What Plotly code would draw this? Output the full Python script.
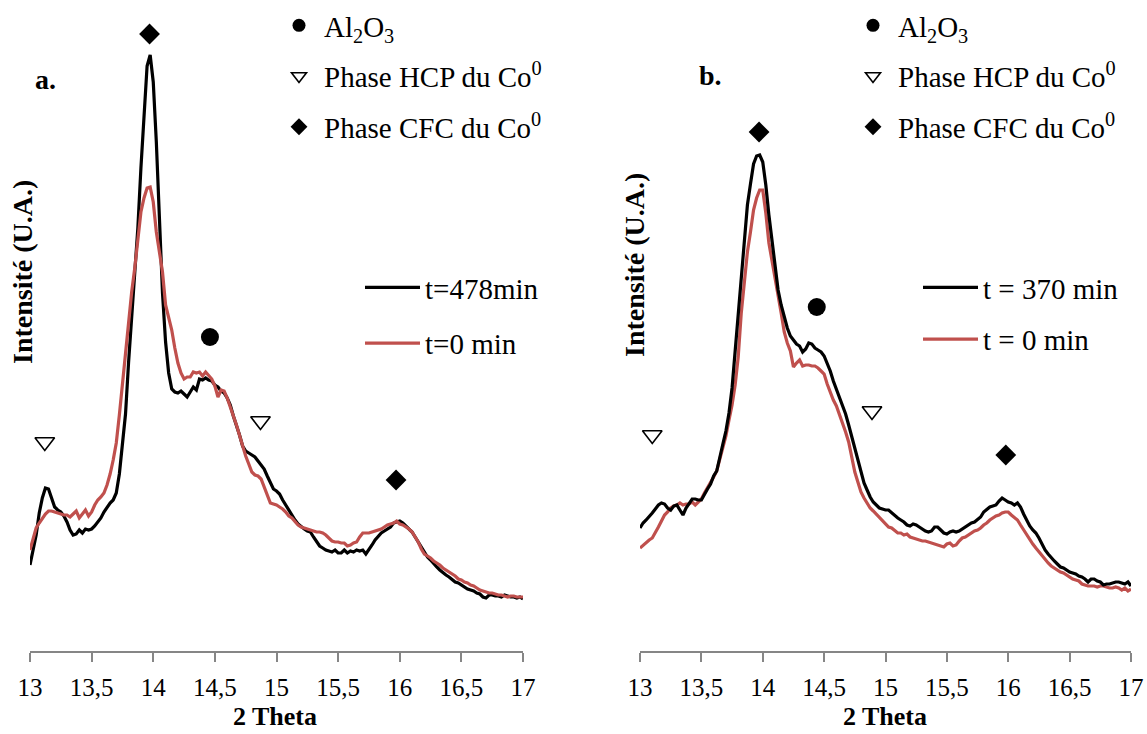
import plotly.graph_objects as go

# 2-theta scan grid (degrees), shared by both diffractograms
two_theta = [
    13.000, 13.025, 13.050, 13.075, 13.100, 13.125, 13.150, 13.175, 13.200, 13.225,
    13.250, 13.275, 13.300, 13.325, 13.350, 13.375, 13.400, 13.425, 13.450, 13.475,
    13.500, 13.525, 13.550, 13.575, 13.600, 13.625, 13.650, 13.675, 13.700, 13.725,
    13.750, 13.775, 13.800, 13.825, 13.850, 13.875, 13.900, 13.925, 13.950, 13.975,
    14.000, 14.025, 14.050, 14.075, 14.100, 14.125, 14.150, 14.175, 14.200, 14.225,
    14.250, 14.275, 14.300, 14.325, 14.350, 14.375, 14.400, 14.425, 14.450, 14.475,
    14.500, 14.525, 14.550, 14.575, 14.600, 14.625, 14.650, 14.675, 14.700, 14.725,
    14.750, 14.775, 14.800, 14.825, 14.850, 14.875, 14.900, 14.925, 14.950, 14.975,
    15.000, 15.025, 15.050, 15.075, 15.100, 15.125, 15.150, 15.175, 15.200, 15.225,
    15.250, 15.275, 15.300, 15.325, 15.350, 15.375, 15.400, 15.425, 15.450, 15.475,
    15.500, 15.525, 15.550, 15.575, 15.600, 15.625, 15.650, 15.675, 15.700, 15.725,
    15.750, 15.775, 15.800, 15.825, 15.850, 15.875, 15.900, 15.925, 15.950, 15.975,
    16.000, 16.025, 16.050, 16.075, 16.100, 16.125, 16.150, 16.175, 16.200, 16.225,
    16.250, 16.275, 16.300, 16.325, 16.350, 16.375, 16.400, 16.425, 16.450, 16.475,
    16.500, 16.525, 16.550, 16.575, 16.600, 16.625, 16.650, 16.675, 16.700, 16.725,
    16.750, 16.775, 16.800, 16.825, 16.850, 16.875, 16.900, 16.925, 16.950, 16.975,
    17.000,
]

# Panel a: intensity (A.U.)
a_t478 = [
    86, 101, 116, 138, 153, 163, 162, 153, 144, 141,
    139, 135, 129, 121, 116, 117, 121, 118, 122, 121,
    122, 125, 129, 133, 139, 144, 148, 151, 158, 177,
    205, 237, 289, 333, 386, 423, 483, 541, 585, 596,
    569, 509, 433, 358, 309, 278, 262, 259, 258, 260,
    257, 254, 259, 264, 261, 272, 271, 273, 271, 270,
    266, 264, 260, 258, 253, 246, 235, 226, 216, 205,
    200, 198, 196, 194, 190, 186, 182, 175, 168, 162,
    160, 157, 151, 146, 140, 135, 131, 127, 124, 122,
    120, 119, 114, 109, 105, 103, 101, 100, 99, 101,
    98, 98, 101, 98, 100, 99, 101, 100, 101, 97,
    101, 106, 111, 115, 118, 120, 122, 124, 128, 129,
    130, 128, 125, 122, 119, 114, 109, 104, 99, 94,
    91, 87, 84, 81, 78, 76, 74, 71, 69, 68,
    66, 64, 62, 61, 60, 58, 57, 54, 53, 56,
    56, 55, 55, 54, 56, 55, 54, 54, 53, 54,
    52,
]
a_t0 = [
    101, 113, 123, 128, 133, 137, 140, 140, 139, 138,
    137, 136, 136, 134, 137, 140, 133, 137, 141, 135,
    139, 146, 151, 154, 158, 166, 177, 191, 208, 236,
    266, 301, 329, 359, 383, 414, 439, 453, 463, 464,
    449, 419, 399, 379, 346, 334, 321, 303, 288, 278,
    272, 274, 274, 279, 278, 279, 275, 279, 275, 272,
    265, 254, 261, 260, 253, 245, 235, 226, 215, 205,
    195, 187, 179, 176, 175, 172, 164, 156, 148, 147,
    146, 144, 142, 139, 135, 133, 129, 126, 124, 123,
    122, 121, 120, 119, 119, 118, 116, 113, 110, 109,
    109, 108, 108, 105, 106, 108, 109, 114, 118, 118,
    118, 119, 120, 121, 122, 124, 126, 127, 128, 130,
    127, 126, 124, 122, 119, 114, 109, 102, 97, 95,
    93, 90, 88, 86, 83, 81, 79, 77, 75, 72,
    71, 69, 68, 66, 65, 63, 61, 60, 59, 58,
    58, 57, 56, 56, 55, 54, 55, 55, 54, 54,
    54,
]

# Panel b: intensity (A.U.)
b_t370 = [
    123, 128, 131, 134, 138, 142, 146, 148, 147, 143,
    141, 145, 146, 141, 136, 143, 148, 152, 152, 151,
    151, 157, 162, 167, 175, 180, 195, 207, 220, 238,
    263, 299, 335, 376, 416, 446, 467, 487, 495, 496,
    489, 466, 436, 411, 389, 361, 346, 333, 323, 315,
    311, 307, 305, 299, 302, 308, 307, 303, 301, 299,
    295, 288, 280, 270, 262, 253, 245, 237, 226, 214,
    203, 192, 179, 168, 161, 154, 149, 146, 143, 142,
    141, 141, 138, 135, 133, 131, 129, 126, 125, 127,
    126, 124, 122, 120, 119, 120, 124, 124, 121, 118,
    117, 119, 120, 119, 120, 122, 124, 126, 128, 129,
    132, 134, 139, 142, 144, 145, 146, 150, 153, 151,
    149, 148, 146, 148, 144, 137, 131, 125, 121, 118,
    113, 107, 101, 97, 93, 90, 87, 84, 83, 81,
    79, 78, 77, 75, 74, 72, 69, 72, 72, 70,
    69, 66, 67, 67, 68, 69, 69, 68, 67, 69,
    65,
]
b_t0 = [
    103, 106, 108, 111, 113, 118, 124, 130, 136, 139,
    143, 145, 146, 148, 146, 147, 147, 149, 146, 149,
    152, 158, 163, 168, 174, 180, 192, 202, 215, 231,
    246, 266, 294, 338, 371, 399, 419, 441, 453, 461,
    461, 438, 408, 391, 376, 358, 338, 319, 308, 300,
    284, 288, 291, 285, 286, 286, 285, 285, 283, 280,
    277, 267, 258, 251, 245, 237, 227, 219, 209, 193,
    179, 169, 159, 153, 148, 143, 140, 137, 134, 131,
    127, 124, 123, 120, 118, 118, 116, 117, 114, 113,
    112, 111, 110, 110, 109, 108, 107, 106, 105, 104,
    107, 108, 105, 106, 110, 113, 114, 116, 118, 120,
    121, 123, 126, 128, 131, 133, 135, 136, 138, 139,
    139, 136, 133, 131, 126, 121, 117, 111, 107, 103,
    99, 95, 92, 88, 85, 83, 81, 79, 78, 76,
    74, 72, 71, 70, 67, 66, 65, 65, 65, 64,
    65, 65, 64, 63, 63, 64, 63, 61, 63, 60,
    62,
]

# Phase reflections marked above the patterns: (2-theta, intensity level)
a_al2o3_x, a_al2o3_y = [14.46], [314]
a_hcp_x, a_hcp_y = [13.12, 14.87], [209, 230]
a_cfc_x, a_cfc_y = [13.97, 15.97], [617, 171]

b_al2o3_x, b_al2o3_y = [14.44], [344]
b_hcp_x, b_hcp_y = [13.10, 14.89], [216, 240]
b_cfc_x, b_cfc_y = [13.97, 15.98], [519, 196]

x_ticks = [13, 13.5, 14, 14.5, 15, 15.5, 16, 16.5, 17]

phase_names = ["Al<sub>2</sub>O<sub>3</sub>",
               "Phase HCP du Co<sup>0</sup>",
               "Phase CFC du Co<sup>0</sup>"]

SERIF = "Liberation Serif"
BLACK = "#000000"
RED = "#C0504D"
AXIS_GREY = "#868686"

W, H = 1147, 734
MB = 83
PH = H - MB

PHASE_STYLE = [
    dict(symbol="circle", color=BLACK),
    dict(symbol="triangle-down-open", color=BLACK, line=dict(width=1.6, color=BLACK)),
    dict(symbol="diamond", color=BLACK),
]
PLOT_SIZES = [18, 17, 16]

fig = go.Figure()


def add_phase_markers(xax, yax, legend, xs, ys):
    for k, (px, py) in enumerate(zip(xs, ys)):
        # reflection marks on the pattern
        fig.add_trace(go.Scatter(
            x=px, y=py, xaxis=xax, yaxis=yax, mode="markers", showlegend=False,
            marker=dict(size=PLOT_SIZES[k], **PHASE_STYLE[k]), hoverinfo="skip",
        ))
        # key entry with a smaller symbol
        fig.add_trace(go.Scatter(
            x=[None], y=[None], xaxis=xax, yaxis=yax, mode="markers",
            name=phase_names[k], legend=legend, legendgroup=legend + str(k), legendrank=k + 1,
            marker=dict(size=13, **PHASE_STYLE[k]),
        ))


# Panel a: black pattern drawn under the red one
fig.add_trace(go.Scatter(x=two_theta, y=a_t478, xaxis="x", yaxis="y", mode="lines",
                         name="t=478min", legend="legend2", legendgroup="a478", legendrank=1,
                         line=dict(color=BLACK, width=3.2)))
fig.add_trace(go.Scatter(x=two_theta, y=a_t0, xaxis="x", yaxis="y", mode="lines",
                         name="t=0 min", legend="legend2", legendgroup="a0", legendrank=2,
                         line=dict(color=RED, width=3.2)))
add_phase_markers("x", "y", "legend",
                  [a_al2o3_x, a_hcp_x, a_cfc_x], [a_al2o3_y, a_hcp_y, a_cfc_y])

# Panel b: red pattern drawn under the black one
fig.add_trace(go.Scatter(x=two_theta, y=b_t0, xaxis="x2", yaxis="y2", mode="lines",
                         name="t = 0 min", legend="legend4", legendgroup="b0", legendrank=2,
                         line=dict(color=RED, width=3.2)))
fig.add_trace(go.Scatter(x=two_theta, y=b_t370, xaxis="x2", yaxis="y2", mode="lines",
                         name="t = 370 min", legend="legend4", legendgroup="b370", legendrank=1,
                         line=dict(color=BLACK, width=3.2)))
add_phase_markers("x2", "y2", "legend3",
                  [b_al2o3_x, b_hcp_x, b_cfc_x], [b_al2o3_y, b_hcp_y, b_cfc_y])

xaxis_style = dict(
    range=[13, 17], tickvals=x_ticks, showgrid=False, zeroline=False,
    showline=True, linecolor=AXIS_GREY, linewidth=2,
    ticks="outside", ticklen=9, tickwidth=2, tickcolor=AXIS_GREY,
    tickfont=dict(family=SERIF, size=25, color=BLACK), ticklabelstandoff=4,
    automargin=False, fixedrange=True,
)
yaxis_style = dict(range=[0, PH], visible=False, fixedrange=True)


def legend_style(px_x, px_y, gap, itemwidth):
    return dict(
        x=px_x / W, y=1 - px_y / PH, xanchor="left", yanchor="top",
        bgcolor="rgba(0,0,0,0)", borderwidth=0, tracegroupgap=gap,
        font=dict(family=SERIF, size=29, color=BLACK), itemsizing="trace",
        traceorder="grouped", itemwidth=itemwidth,
    )


fig.update_layout(
    width=W, height=H,
    margin=dict(l=0, r=0, t=0, b=MB, autoexpand=False),
    paper_bgcolor="white", plot_bgcolor="white",
    separators=", ",
    font=dict(family=SERIF, size=28, color=BLACK),
    xaxis=dict(domain=[30 / W, 523 / W], anchor="y", **xaxis_style),
    yaxis=dict(domain=[0, 1], anchor="x", **yaxis_style),
    xaxis2=dict(domain=[640 / W, 1131 / W], anchor="y2", **xaxis_style),
    yaxis2=dict(domain=[0, 1], anchor="x2", **yaxis_style),
    legend=legend_style(274, 0, 10, 40),
    legend2=legend_style(360, 262, 15, 55),
    legend3=legend_style(848, 0, 10, 40),
    legend4=legend_style(918, 262, 11, 55),
    showlegend=True,
)

annotations = [
    dict(text="<b>a.</b>", x=45 / W, y=1 - 80 / PH, size=28),
    dict(text="<b>b.</b>", x=710 / W, y=1 - 75 / PH, size=28),
    dict(text="<b>Intensité (U.A.)</b>", x=22 / W, y=1 - 272 / PH, textangle=-90, size=28),
    dict(text="<b>Intensité (U.A.)</b>", x=634 / W, y=1 - 265 / PH, textangle=-90, size=28),
    dict(text="<b>2 Theta</b>", x=275 / W, y=1 - 716 / PH, size=26),
    dict(text="<b>2 Theta</b>", x=885 / W, y=1 - 716 / PH, size=26),
]
for a in annotations:
    size = a.pop("size")
    fig.add_annotation(xref="paper", yref="paper", xanchor="center", yanchor="middle",
                       showarrow=False, font=dict(family=SERIF, size=size, color=BLACK), **a)

fig.write_html("out.html")
